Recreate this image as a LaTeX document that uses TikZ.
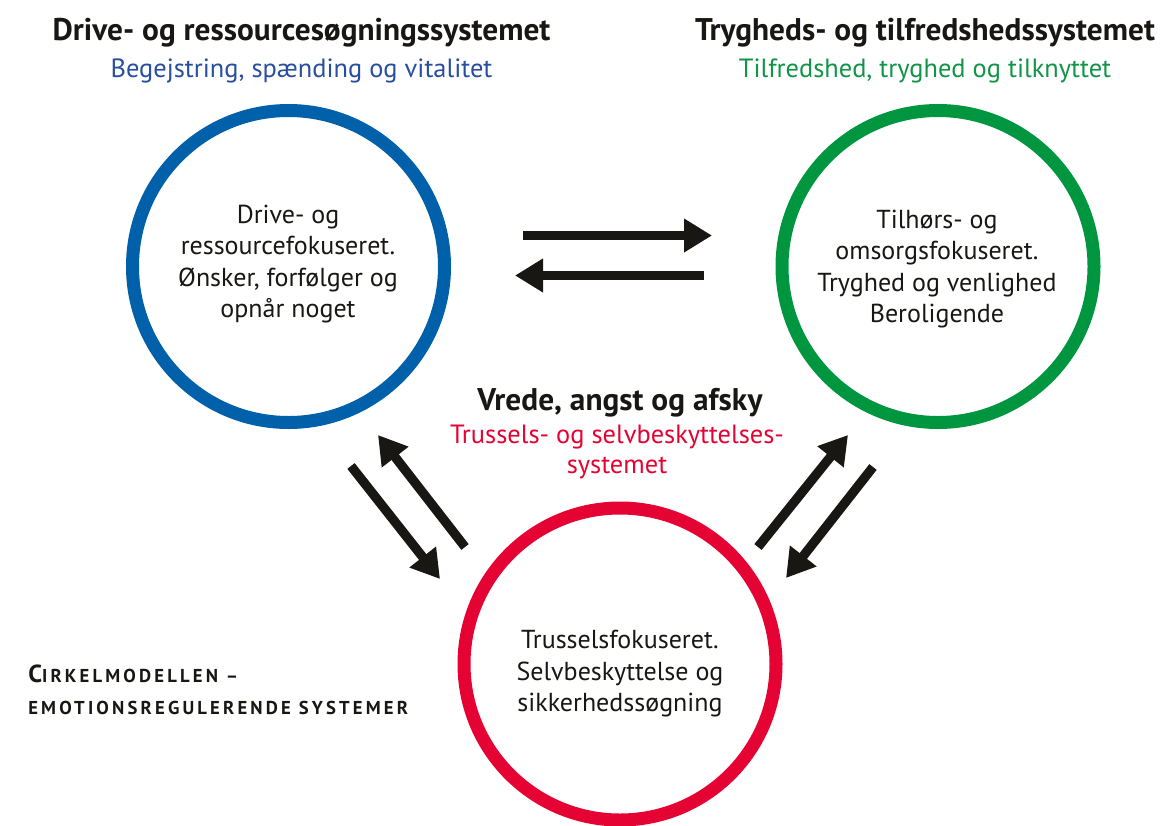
\documentclass[tikz,border=0pt]{standalone}
\usepackage{fontspec}
\setmainfont{PT Sans}
\newfontfamily\capsfont{PT Sans}[LetterSpace=17]
\usepackage{xcolor}
\usetikzlibrary{arrows.meta, positioning}

\definecolor{driveblaa}{RGB}{0,96,170}
\definecolor{drivetekst}{RGB}{40,78,158}
\definecolor{trygroen}{RGB}{0,150,64}
\definecolor{trygtekst}{RGB}{16,148,72}
\definecolor{trusselrod}{RGB}{228,3,50}
\definecolor{pilsort}{RGB}{24,23,20}

\begin{document}
\begin{tikzpicture}[x=0.75pt, y=-0.75pt,
    >={Triangle[length=21pt, width=24pt]},
    system/.style={circle, line width=9.75pt, minimum size=234pt, inner sep=0pt},
    indhold/.style={align=center, inner sep=0pt, text=pilsort,
        font=\fontsize{19.5}{23.6}\selectfont},
    overskrift/.style={anchor=base, inner sep=0pt, text=pilsort,
        font=\bfseries\fontsize{23.5}{26}\selectfont},
    undertekst/.style={align=center, inner sep=0pt,
        font=\fontsize{19.8}{22.5}\selectfont},
    pil/.style={->, line width=7pt, draw=pilsort}]

    \useasboundingbox (0,0) rectangle (1160,825);

    % =================================================================
    % 1. DE TRE SYSTEMER (CIRKLER)
    % =================================================================
    \node[system, draw=driveblaa] (drive) at (288.5,266.5) {};
    \node[system, draw=trygroen] (tryg) at (938,266.5) {};
    \node[system, draw=trusselrod] (trussel) at (620,664) {};

    % Tekst inde i cirklerne
    \node[indhold] (drivetxt) at (288,264) {Drive- og\\ressourcefokuseret.\\Ønsker, forfølger og\\opnår noget};
    \node[indhold] (trygtxt) at (937,269) {Tilhørs- og\\omsorgsfokuseret.\\Tryghed og venlighed\\Beroligende};
    \node[indhold] (trusseltxt) at (620,674) {Trusselsfokuseret.\\Selvbeskyttelse og\\sikkerhedssøgning};

    % =================================================================
    % 2. OVERSKRIFTER
    % =================================================================
    \node[overskrift] (drivetitel) at (301.5,40) {Drive- og ressourcesøgningssystemet};
    \node[undertekst, anchor=base, text=drivetekst] (driveunder) at (301.5,77) {Begejstring, spænding og vitalitet};

    \node[overskrift] (trygtitel) at (925,40) {Trygheds- og tilfredshedssystemet};
    \node[undertekst, anchor=base, text=trygtekst] (trygunder) at (925,77) {Tilfredshed, tryghed og tilknyttet};

    \node[overskrift] (trusseltitel) at (620,410) {Vrede, angst og afsky};
    \node[undertekst, text=trusselrod] (trusselunder) at (617,452) {Trussels- og selvbeskyttelses-\\systemet};

    % Figurtitel nederst til venstre
    \node[anchor=north west, align=left, inner sep=0pt, text=pilsort,
          font=\capsfont\bfseries\fontsize{14}{24}\selectfont] (figurtitel) at (28,665)
        {{\fontsize{18.5}{24}\selectfont C}IRKELMODELLEN –\\EMOTIONSREGULERENDE SYSTEMER};

    % =================================================================
    % 3. PILE MELLEM SYSTEMERNE
    % =================================================================
    \coordinate (a1) at (523,235.5);  \coordinate (a2) at (712,235.5);
    \coordinate (b1) at (704,275.5);  \coordinate (b2) at (515,275.5);
    \coordinate (c1) at (351,466);    \coordinate (c2) at (440,579);
    \coordinate (d1) at (465,547);    \coordinate (d2) at (378,435);
    \coordinate (e1) at (758,547);    \coordinate (e2) at (848,435);
    \coordinate (f1) at (873,467);    \coordinate (f2) at (786,578);

    \draw[pil] (a1) -- (a2);
    \draw[pil] (b1) -- (b2);
    \draw[pil] (c1) -- (c2);
    \draw[pil] (d1) -- (d2);
    \draw[pil] (e1) -- (e2);
    \draw[pil] (f1) -- (f2);

\end{tikzpicture}
\end{document}
